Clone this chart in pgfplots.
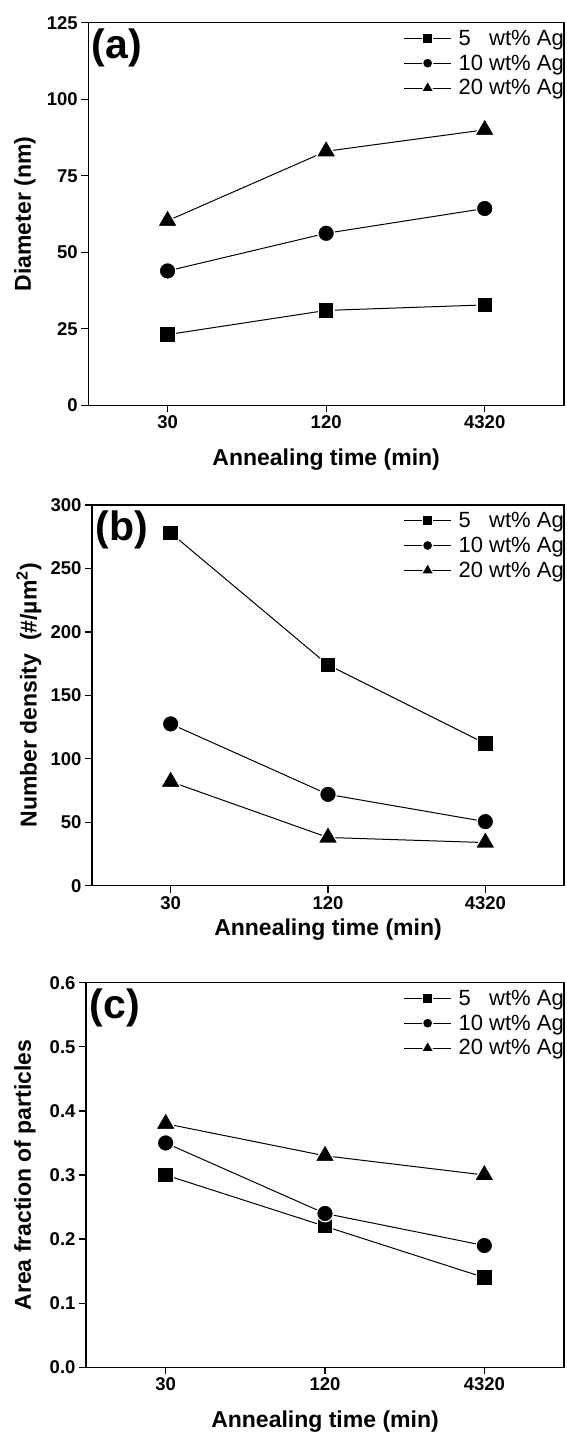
\documentclass[border=0pt]{standalone}
\usepackage{fontspec}
\setmainfont{Liberation Sans}
\usepackage{pgfplots}
\pgfplotsset{compat=1.18}

\tikzset{plab/.style={anchor=north west, inner sep=0pt, xshift=3.4pt, yshift=-5.4pt, font=\bfseries\fontsize{41}{41}\selectfont}}
\pgfplotsset{
  panel/.style={
    scale only axis,
    xmin=-0.5, xmax=2.5,
    xtick={0,1,2}, xticklabels={30,120,4320},
    xtick pos=bottom, ytick pos=left,
    tick align=outside, major tick length=7pt,
    minor tick num=0,
    axis line style={line width=1.5pt},
    every tick/.style={black, line width=1.3pt},
    /pgf/number format/assume math mode=true,
    tick label style={font=\bfseries\fontsize{18.5}{18.5}\selectfont},
    label style={font=\bfseries\fontsize{23}{23}\selectfont},
    legend style={draw=none, fill=none, at={(1,1)}, anchor=north east,
      xshift=1pt, yshift=-6pt, inner sep=0pt, row sep=6pt, column sep=6pt,
      font=\fontsize{22}{22}\selectfont,
      nodes={inner sep=1pt}},
    legend cell align=left,
    legend image code/.code={\draw[mark repeat=2,mark phase=2,##1, every mark/.append style={scale=0.62}] plot coordinates {(0pt,0pt) (23.5pt,0pt) (47pt,0pt)};},
  },
  sq/.style={black, line width=1pt, mark=square*, mark size=7.8pt, mark options={fill=black, draw=white, line width=1.2pt}},
  ci/.style={black, line width=1pt, mark=*, mark size=8.3pt, mark options={fill=black, draw=white, line width=1.2pt}},
  tr/.style={black, line width=1pt, mark=triangle*, mark size=11.5pt, mark options={fill=black, draw=white, line width=1.2pt}},
}

\begin{document}
\begin{tikzpicture}
\useasboundingbox (0pt,0pt) rectangle (566pt,-1435pt);

% ---------------- (a)
\begin{axis}[panel,
  at={(88.3pt,-22.7pt)}, anchor=north west,
  width=475.7pt, height=382.6pt,
  ymin=0, ymax=125, ytick={0,25,50,75,100,125},
  xlabel={Annealing time (min)}, ylabel={Diameter (nm)},
  xlabel style={at={(axis description cs:0.5,-0.1415)}, anchor=center},
  ylabel style={at={(axis description cs:-0.133,0.5)}, anchor=center},
]
\addplot[sq] coordinates {(0,23.1) (1,31.0) (2,32.8)};
\addlegendentry{5\phantom{0} wt\% Ag}
\addplot[ci] coordinates {(0,43.9) (1,56.2) (2,64.3)};
\addlegendentry{10 wt\% Ag}
\addplot[tr] coordinates {(0,60.3) (1,83.0) (2,90.0)};
\addlegendentry{20 wt\% Ag}
\node[plab] at (rel axis cs:0,1) {(a)};
\end{axis}

% ---------------- (b)
\begin{axis}[panel,
  at={(92pt,-505pt)}, anchor=north west,
  width=472pt, height=380.7pt,
  ymin=0, ymax=300, ytick={0,50,100,150,200,250,300},
  xlabel={Annealing time (min)}, ylabel={Number density\ \ (\#/µm\textsuperscript{2})},
  xlabel style={at={(axis description cs:0.5,-0.1164)}, anchor=center},
  ylabel style={at={(axis description cs:-0.1335,0.5)}, anchor=center},
]
\addplot[sq] coordinates {(0,278) (1,174) (2,112)};
\addlegendentry{5\phantom{0} wt\% Ag}
\addplot[ci] coordinates {(0,127.5) (1,72) (2,50.5)};
\addlegendentry{10 wt\% Ag}
\addplot[tr] coordinates {(0,82) (1,38) (2,34)};
\addlegendentry{20 wt\% Ag}
\node[plab] at (rel axis cs:0,1) {(b)};
\end{axis}

% ---------------- (c)
\begin{axis}[panel,
  at={(86pt,-982.7pt)}, anchor=north west,
  width=478pt, height=384.6pt,
  ymin=0, ymax=0.6, ytick={0,0.1,0.2,0.3,0.4,0.5,0.6},
  yticklabel style={/pgf/number format/.cd, fixed, fixed zerofill, precision=1},
  xlabel={Annealing time (min)}, ylabel={Area fraction of particles},
  xlabel style={at={(axis description cs:0.5,-0.1414)}, anchor=center},
  ylabel style={at={(axis description cs:-0.1276,0.5)}, anchor=center},
]
\addplot[sq] coordinates {(0,0.30) (1,0.22) (2,0.14)};
\addlegendentry{5\phantom{0} wt\% Ag}
\addplot[ci] coordinates {(0,0.35) (1,0.24) (2,0.19)};
\addlegendentry{10 wt\% Ag}
\addplot[tr] coordinates {(0,0.38) (1,0.33) (2,0.30)};
\addlegendentry{20 wt\% Ag}
\node[plab] at (rel axis cs:0,1) {(c)};
\end{axis}
\end{tikzpicture}
\end{document}
